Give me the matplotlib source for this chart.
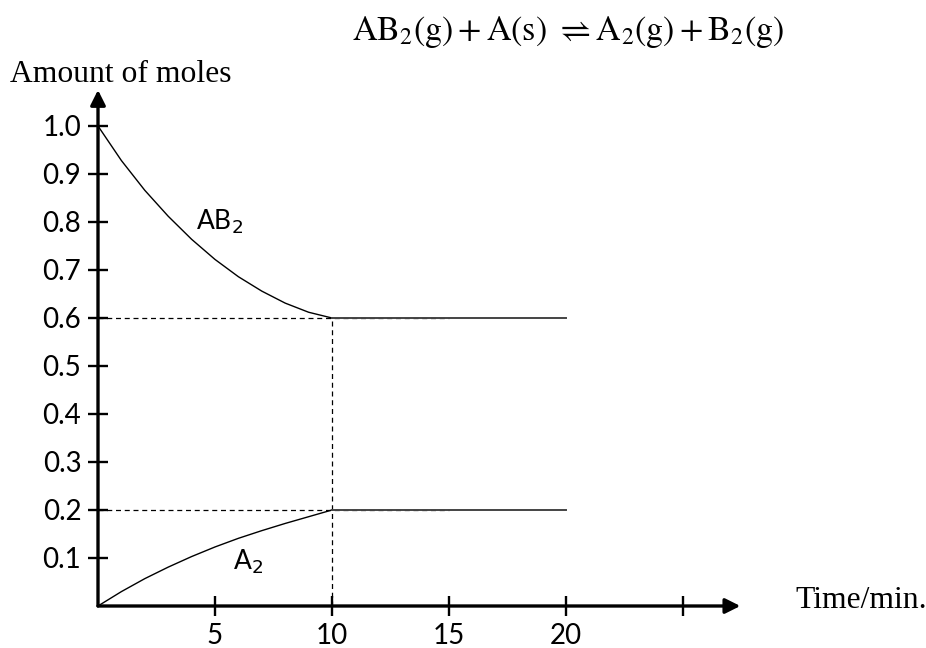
import matplotlib
matplotlib.use("Agg")
import matplotlib.pyplot as plt

# Data
time_curve = [0, 1, 2, 3, 4, 5, 6, 7, 8, 9, 10]
ab2_curve = [1.0, 0.928, 0.866, 0.812, 0.764, 0.722, 0.686, 0.656, 0.631, 0.612, 0.600]
a2_curve = [0.0, 0.030, 0.057, 0.081, 0.103, 0.123, 0.141, 0.157, 0.172, 0.186, 0.200]
time_plateau = [10, 20]
ab2_plateau = [0.6, 0.6]
a2_plateau = [0.2, 0.2]
x_ticks = [5, 10, 15, 20, 25]
x_tick_labels = ["5", "10", "15", "20", ""]
y_ticks = [0.1, 0.2, 0.3, 0.4, 0.5, 0.6, 0.7, 0.8, 0.9, 1.0]
y_tick_labels = ["0.1", "0.2", "0.3", "0.4", "0.5", "0.6", "0.7", "0.8", "0.9", "1.0"]
eq_time = 10
dash_end = 15

W, H = 926, 648
fig = plt.figure(figsize=(W / 100, H / 100), dpi=100)
px_x = 23.4  # pixels per minute
px_y = 480.0  # pixels per mole unit
xmax, ymax = 28.0, 1.12
ax = fig.add_axes([98 / W, 42 / H, xmax * px_x / W, ymax * px_y / H])
ax.set_xlim(0, xmax)
ax.set_ylim(0, ymax)
for s in ax.spines.values():
    s.set_visible(False)

# Axes with arrows
ax.annotate("", xy=(27.45, 0), xytext=(0, 0), xycoords="data",
            arrowprops=dict(arrowstyle="-|>,head_length=0.9,head_width=0.45", lw=2.4, color="black",
                            shrinkA=0, shrinkB=0), annotation_clip=False)
ax.annotate("", xy=(0, 1.075), xytext=(0, 0), xycoords="data",
            arrowprops=dict(arrowstyle="-|>,head_length=0.9,head_width=0.45", lw=2.4, color="black",
                            shrinkA=0, shrinkB=0), annotation_clip=False)

tick_font = ["Lato", "DejaVu Sans"]
ax.set_xticks(x_ticks)
ax.set_xticklabels(x_tick_labels, family=tick_font, fontsize=20)
ax.set_yticks(y_ticks)
ax.set_yticklabels(y_tick_labels, family=tick_font, fontsize=20)
ax.tick_params(axis="x", direction="inout", length=14, width=1.7, pad=5, color="black")
ax.tick_params(axis="y", direction="inout", length=14, width=1.7, pad=5, color="black")

# Dashed guide lines
ax.plot([0, dash_end], [0.6, 0.6], ls=(0, (4, 3)), lw=0.9, color="black")
ax.plot([0, dash_end], [0.2, 0.2], ls=(0, (4, 3)), lw=0.9, color="black")
ax.plot([eq_time, eq_time], [0, 0.6], ls=(0, (4, 3)), lw=0.9, color="black")

# Curves
ax.plot(time_curve, ab2_curve, color="black", lw=1.0)
ax.plot(time_curve, a2_curve, color="black", lw=1.0)
ax.plot(time_plateau, ab2_plateau, color="#444444", lw=1.4)
ax.plot(time_plateau, a2_plateau, color="#444444", lw=1.4)

# Curve labels
ax.text(5.2, 0.80, "AB$_2$", family=tick_font, fontsize=19, ha="center", va="center",
        math_fontfamily="dejavusans")
ax.text(6.4, 0.093, "A$_2$", family=tick_font, fontsize=19, ha="center", va="center",
        math_fontfamily="dejavusans")

# Axis titles
fig.text(10 / W, 1 - 75 / H, "Amount of moles", family="Liberation Serif", fontsize=22.8,
         ha="left", va="center")
fig.text(795 / W, 1 - 600 / H, "Time/min.", family="Liberation Serif", fontsize=22.8,
         ha="left", va="center")

# Reaction equation
fig.text(352 / W, 1 - 32 / H,
         r"$\mathrm{AB_2(g) + A(s)}\ \rightleftharpoons \mathrm{A_2(g) + B_2(g)}$",
         fontsize=24.5, ha="left", va="center", math_fontfamily="stix")

fig.savefig("out.png", dpi=100)
